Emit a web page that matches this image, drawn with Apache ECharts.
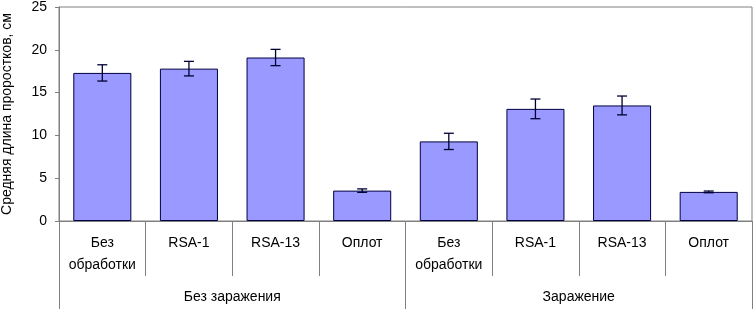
<!DOCTYPE html>
<html>
<head>
<meta charset="utf-8">
<script src="https://cdn.jsdelivr.net/npm/echarts@6/dist/echarts.min.js"></script>
<style>
  html, body { margin: 0; padding: 0; background: #fff; }
  #chart { width: 753px; height: 309px; }
</style>
</head>
<body>
<div id="chart"></div>
<script>
// данные
const categories = ['Без\nобработки', 'RSA-1', 'RSA-13', 'Оплот', 'Без\nобработки', 'RSA-1', 'RSA-13', 'Оплот'];
const groups = ['Без заражения', 'Заражение'];
const means = [17.3, 17.8, 19.1, 3.55, 9.3, 13.1, 13.5, 3.4];
const errors = [0.95, 0.85, 0.95, 0.2, 0.95, 1.15, 1.1, 0.1];
const yTicks = [0, 5, 10, 15, 20, 25];

const chart = echarts.init(document.getElementById('chart'));
const gray = '#808080';
const font = 'Liberation Sans, Arial, sans-serif';

const option = {
  animation: false,
  grid: {
    left: 59, right: 1, top: 7, bottom: 88,
    outerBoundsMode: 'none',
    containLabel: false,
    show: true, borderColor: gray, borderWidth: 1
  },
  xAxis: [
    {
      type: 'category',
      data: categories,
      axisLine: { show: true, lineStyle: { color: gray } },
      axisTick: { show: true, interval: 0, length: 55, lineStyle: { color: gray } },
      axisLabel: {
        interval: 0, color: '#000', fontSize: 14, fontFamily: font,
        lineHeight: 22, margin: 11
      }
    },
    {
      type: 'category',
      data: groups,
      position: 'bottom',
      axisLine: { show: false },
      axisTick: { show: true, interval: 0, length: 88, lineStyle: { color: gray } },
      axisLabel: { color: '#000', fontSize: 14, fontFamily: font, margin: 69 }
    }
  ],
  yAxis: {
    type: 'value',
    min: yTicks[0],
    max: yTicks[yTicks.length - 1],
    interval: 5,
    name: 'Средняя длина проростков, см',
    nameLocation: 'middle',
    nameGap: 45,
    nameTextStyle: { color: '#000', fontSize: 14, fontFamily: font },
    axisLine: { show: true, lineStyle: { color: gray } },
    axisTick: { show: true, length: 4, lineStyle: { color: gray } },
    axisLabel: { color: '#000', fontSize: 14, fontFamily: font, margin: 12 },
    splitLine: { show: false }
  },
  series: [
    {
      type: 'bar',
      data: means,
      barCategoryGap: '33%',
      itemStyle: { color: '#9999FF', borderColor: '#000040', borderWidth: 1 }
    },
    {
      // планки погрешностей
      type: 'custom',
      data: means.map((m, i) => [i, m - errors[i], m + errors[i]]),
      z: 10,
      renderItem: function (params, api) {
        const lo = api.coord([api.value(0), api.value(1)]);
        const hi = api.coord([api.value(0), api.value(2)]);
        const hw = 5;
        const style = { stroke: '#000033', lineWidth: 1.3 };
        return {
          type: 'group',
          children: [
            { type: 'line', shape: { x1: lo[0], y1: lo[1], x2: hi[0], y2: hi[1] }, style: style },
            { type: 'line', shape: { x1: lo[0] - hw, y1: lo[1], x2: lo[0] + hw, y2: lo[1] }, style: style },
            { type: 'line', shape: { x1: hi[0] - hw, y1: hi[1], x2: hi[0] + hw, y2: hi[1] }, style: style }
          ]
        };
      }
    }
  ]
};

chart.setOption(option);
</script>
</body>
</html>
